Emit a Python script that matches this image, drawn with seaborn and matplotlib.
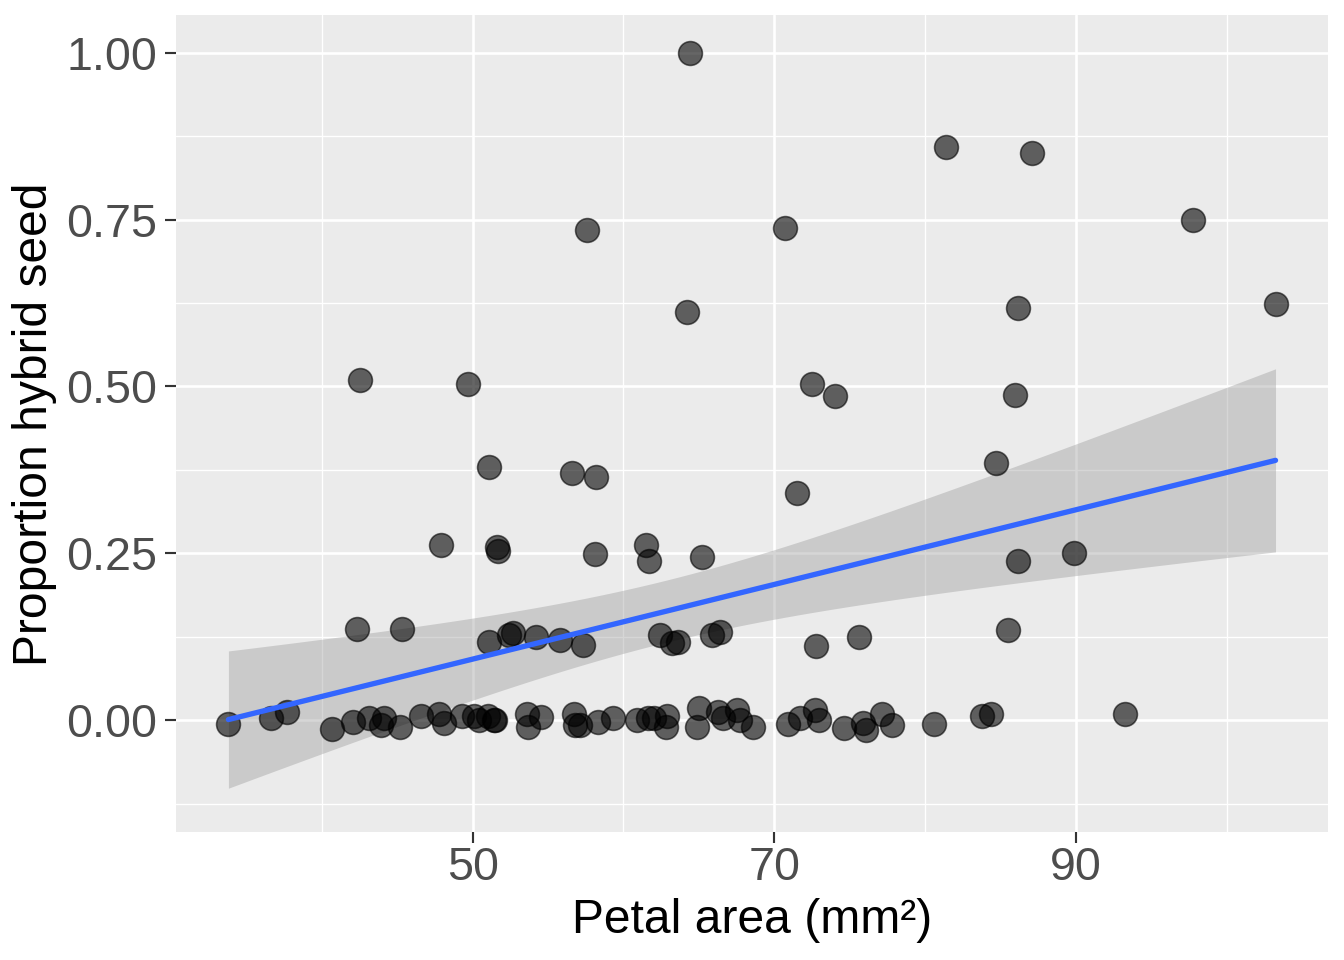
import numpy as np
import pandas as pd
import matplotlib
matplotlib.use("Agg")
import matplotlib.pyplot as plt
import seaborn as sns

# Petal area (mm²) and proportion hybrid seed
petal_area = [
    # upper points
    64.4, 81.4, 87.1, 97.8, 57.6, 70.7, 103.25, 64.2, 86.2, 42.5,
    49.7, 72.5, 74.0, 86.0, 51.1, 56.6, 58.2, 71.5, 84.7, 47.9,
    51.6, 51.7, 58.1, 61.5, 61.7, 65.2, 86.2, 89.9, 42.3, 45.3,
    85.5, 75.6, 72.8,
    # ~0.12 band
    51.1, 52.4, 52.65, 54.2, 55.8, 57.3, 62.45, 63.25, 63.6, 65.9, 66.4,
    # near-zero band
    33.8, 36.6, 37.7, 40.7, 42.05, 43.1, 44.1, 43.9, 45.2, 46.6,
    47.75, 48.1, 49.3, 50.1, 50.4, 51.0, 51.4,
    51.5, 53.6, 53.7, 54.5, 56.7, 56.8, 57.15, 58.3, 59.3, 60.9,
    61.6, 62.0, 62.8, 62.9, 65.0, 64.9, 66.3, 66.6, 67.55, 67.75, 68.6,
    70.9, 71.7, 72.7, 73.0, 74.6, 75.9, 76.1, 77.15, 77.8, 80.6,
    83.8, 84.4, 93.25,
]
prop_hybrid = [
    1.000, 0.859, 0.850, 0.749, 0.735, 0.738, 0.624, 0.611, 0.617, 0.510,
    0.503, 0.504, 0.485, 0.487, 0.380, 0.370, 0.364, 0.341, 0.386, 0.262,
    0.260, 0.253, 0.249, 0.262, 0.238, 0.244, 0.238, 0.250, 0.136, 0.136,
    0.135, 0.124, 0.111,
    0.117, 0.127, 0.130, 0.124, 0.120, 0.112, 0.127, 0.115, 0.117, 0.127, 0.132,
    -0.006, 0.004, 0.012, -0.013, -0.003, 0.003, 0.004, -0.007, -0.010, 0.006,
    0.010, -0.004, 0.007, 0.007, 0.000, 0.007, 0.000,
    0.000, 0.010, -0.010, 0.005, 0.010, -0.007, -0.007, -0.003, 0.003, 0.000,
    0.003, 0.004, -0.010, 0.007, 0.018, -0.010, 0.012, 0.003, 0.015, 0.000, -0.010,
    -0.006, 0.004, 0.015, 0.001, -0.012, -0.004, -0.015, 0.010, -0.007, -0.006,
    0.007, 0.010, 0.009,
]
x_ticks = [50, 70, 90]
y_ticks = [0.00, 0.25, 0.50, 0.75, 1.00]
y_tick_labels = ["0.00", "0.25", "0.50", "0.75", "1.00"]

df = pd.DataFrame({"petal": petal_area, "prop": prop_hybrid})

sns.set_theme(style="darkgrid")
plt.rcParams["font.family"] = ["Liberation Sans", "DejaVu Sans"]

fig, ax = plt.subplots(figsize=(7, 5), dpi=192)
fig.subplots_adjust(left=0.131, right=0.988, top=0.984, bottom=0.133)
ax.set_facecolor("#EBEBEB")

# linear fit with analytical 95% confidence band (as in lm smoothing)
x = np.asarray(petal_area, float)
y = np.asarray(prop_hybrid, float)
n = len(x)
X = np.column_stack([np.ones(n), x])
beta, *_ = np.linalg.lstsq(X, y, rcond=None)
resid = y - X @ beta
s2 = resid @ resid / (n - 2)
XtX_inv = np.linalg.inv(X.T @ X)
grid = np.linspace(x.min(), x.max(), 80)
G = np.column_stack([np.ones_like(grid), grid])
fit = G @ beta
se = np.sqrt(s2 * np.einsum("ij,jk,ik->i", G, XtX_inv, G))
tcrit = 1.985
ax.fill_between(grid, fit - tcrit * se, fit + tcrit * se,
                color="#999999", alpha=0.4, linewidth=0, zorder=2)

sns.regplot(data=df, x="petal", y="prop", ax=ax, scatter=False, ci=None,
            line_kws=dict(color="#3366FF", lw=2.0, zorder=4))

sns.scatterplot(data=df, x="petal", y="prop", ax=ax, s=80,
                color="black", alpha=0.6, edgecolor="black", linewidth=0.6,
                zorder=3)

xmin, xmax = min(petal_area), max(petal_area)
xr = xmax - xmin
ax.set_xlim(xmin - 0.05 * xr, xmax + 0.05 * xr)
ax.set_ylim(-0.168, 1.056)

ax.set_xticks(x_ticks)
ax.set_xticks([40, 60, 80, 100], minor=True)
ax.set_yticks(y_ticks)
ax.set_yticklabels(y_tick_labels)
ax.set_yticks([-0.125, 0.125, 0.375, 0.625, 0.875], minor=True)

ax.grid(which="major", color="white", lw=1.0)
ax.grid(which="minor", color="white", lw=0.5)
ax.set_axisbelow(True)
for s in ax.spines.values():
    s.set_visible(False)

ax.tick_params(axis="both", which="major", length=4, width=0.8, color="#333333",
               labelsize=17.5, labelcolor="#4D4D4D", pad=3, bottom=True, left=True)
ax.tick_params(axis="x", which="major", pad=1)
ax.tick_params(axis="both", which="minor", length=0)

ax.set_xlabel("Petal area (mm²)", fontsize=18, color="black", labelpad=3)
ax.set_ylabel("Proportion hybrid seed", fontsize=18, color="black", labelpad=3.5)

fig.savefig("out.png", dpi=192)
